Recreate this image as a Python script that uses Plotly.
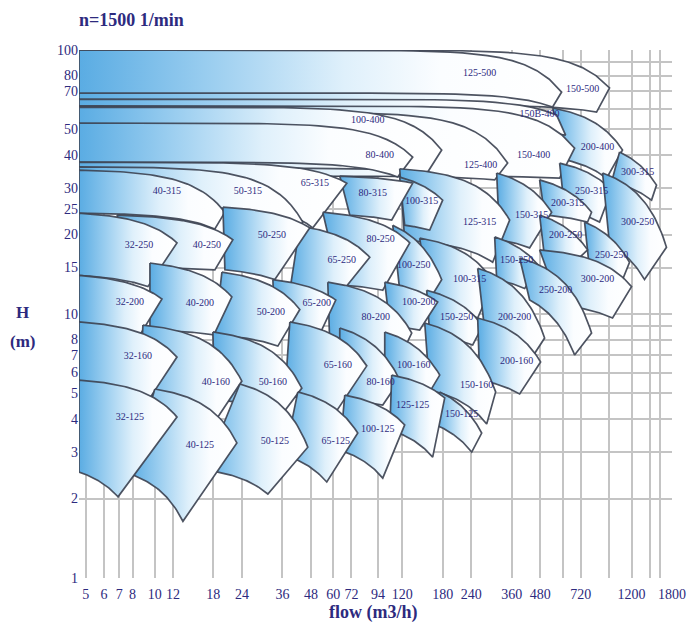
import numpy as np
import plotly.graph_objects as go

# ---- pump tiles (listed in drawing order: upper/right first, lower/left last) ----
names = [
    "150-500", "125-500",
    "200-400", "150B-400", "150-400", "125-400", "100-400", "80-400",
    "300-315", "250-315", "200-315", "150-315", "125-315", "100-315", "80-315", "65-315", "50-315", "40-315",
    "300-250", "250-250", "200-250", "150-250", "100-315", "100-250", "80-250", "65-250", "50-250", "40-250", "32-250",
    "300-200", "250-200", "200-200", "150-250", "100-200", "80-200", "65-200", "50-200", "40-200", "32-200",
    "200-160", "150-160", "100-160", "80-160", "65-160", "50-160", "40-160", "32-160",
    "150-125", "125-125", "100-125", "65-125", "50-125", "40-125", "32-125",
]
# corner points of each tile: flow Q (m3/h), head H (m)
q_top_left = [4.67, 4.67,
              542.9, 4.67, 4.67, 4.67, 4.67, 4.67,
              1063, 582.4, 476.4, 309.5, 116.9, 116.9, 64.04, 4.67, 4.67, 4.67,
              896.3, 748.2, 476.4, 303.4, 142.9, 109.0, 54.0, 42.88, 19.81, 6.84, 4.67,
              476.4, 389.9, 255.8, 153.3, 100.6, 56.78, 32.71, 19.61, 9.52, 4.67,
              255.8, 150.3, 100.6, 64.04, 38.79, 17.91, 8.87, 4.67,
              174.7, 107.9, 67.34, 42.03, 23.49, 10.0, 4.67]
h_top_left = [100, 100,
              60.3, 65.2, 61.4, 58.2, 60.8, 52.9,
              41.1, 37.3, 32.2, 34.2, 35.5, 33.0, 33.3, 37.6, 36.1, 35.1,
              34.2, 22.3, 23.7, 19.6, 19.4, 21.7, 24.3, 21.5, 25.4, 23.7, 24.1,
              17.5, 16.3, 14.9, 12.3, 13.2, 13.2, 13.5, 14.4, 15.6, 14.0,
              9.66, 9.25, 8.55, 8.85, 9.33, 8.55, 9.08, 9.33,
              5.07, 5.87, 4.93, 5.07, 5.43, 5.20, 5.62]
q_top_right = [961.5, 594.2,
               1095, 565.1, 676.9, 345.6, 178.2, 133.2,
               1541, 981.1, 802.6, 537.5, 352.6, 180.0, 133.2, 68.71, 44.19, 20.21,
               1703, 1175, 771.0, 476.4, 300.3, 178.2, 129.3, 86.56, 47.41, 21.89, 12.49,
               1199, 802.6, 500.9, 268.9, 171.2, 131.9, 61.52, 42.88, 21.67, 10.74,
               481.2, 306.4, 174.7, 116.9, 83.99, 43.75, 23.96, 12.49,
               266.3, 183.7, 122.9, 76.73, 46.46, 22.79, 12.49]
h_top_right = [71.8, 69.3,
               41.8, 56.7, 42.5, 37.3, 41.8, 39.3,
               30.8, 29.5, 24.3, 24.3, 22.7, 27.0, 31.3, 31.3, 22.3, 24.3,
               17.9, 15.7, 17.5, 15.1, 13.2, 13.5, 18.6, 16.4, 21.2, 19.1, 18.6,
               12.7, 8.47, 8.11, 9.01, 11.1, 8.47, 11.3, 10.4, 11.6, 11.4,
               6.58, 5.07, 5.87, 5.62, 6.36, 5.24, 5.57, 6.87,
               3.54, 4.81, 3.80, 3.54, 3.13, 3.25, 4.07]
q_bottom_right = [843.9, 542.9,
                  933.0, 618.5, 582.4, 303.4, 154.9, 114.6,
                  1466, 869.7, 771.0, 430.9, 297.3, 158.0, 107.9, 48.86, 42.03, 18.27,
                  1366, 1085, 676.9, 410.0, 255.8, 161.2, 98.61, 60.30, 33.37, 18.27, 9.33,
                  991.0, 676.9, 439.7, 243.3, 142.9, 114.6, 53.46, 34.39, 18.09, 8.61,
                  389.9, 280.0, 154.9, 98.61, 61.52, 36.52, 18.46, 9.52,
                  240.9, 162.8, 98.61, 56.22, 31.11, 13.26, 6.91]
h_bottom_right = [58.2, 60.8,
                  32.7, 47.6, 32.7, 32.2, 34.5, 33.0,
                  27.0, 22.3, 22.3, 17.8, 15.7, 20.8, 22.7, 21.2, 20.8, 21.0,
                  13.5, 13.2, 15.7, 12.5, 9.66, 11.7, 12.3, 11.1, 13.5, 14.7, 12.7,
                  9.66, 6.99, 6.81, 7.63, 8.70, 6.58, 8.70, 7.56, 8.33, 8.33,
                  4.98, 3.83, 4.93, 4.52, 4.25, 4.25, 3.97, 4.81,
                  3.00, 2.87, 2.39, 2.31, 2.08, 1.64, 2.03]
q_bottom_left = [4.67, 4.67,
                 624.5, 4.67, 4.67, 4.67, 4.67, 4.67,
                 981.1, 612.3, 500.9, 319.0, 122.9, 122.9, 70.8, 4.67, 4.67, 4.67,
                 961.5, 786.7, 500.9, 309.5, 158.0, 116.9, 64.04, 38.79, 20.21, 7.79, 4.67,
                 582.4, 430.9, 274.4, 158.0, 105.8, 57.93, 33.37, 18.27, 9.52, 4.67,
                 261.0, 158.0, 100.6, 64.04, 36.89, 18.27, 8.61, 4.67,
                 167.8, 105.8, 64.04, 36.89, 16.54, 7.79, 4.67]
h_bottom_left = [61.9, 68.7,
                 38.3, 49.8, 33.3, 33.3, 35.7, 37.6,
                 31.6, 24.8, 23.7, 19.1, 19.0, 21.7, 23.7, 27.0, 25.9, 24.1,
                 18.3, 14.7, 16.3, 13.5, 10.8, 12.3, 12.9, 12.3, 14.7, 15.0, 14.0,
                 10.8, 11.3, 8.70, 8.33, 9.0, 7.63, 8.85, 8.33, 8.7, 8.70,
                 5.62, 5.15, 5.2, 4.72, 4.93, 4.72, 4.93, 5.15,
                 3.80, 3.64, 3.05, 2.92, 2.57, 2.48, 2.52]
label_q = [733.4, 261.0,
           852, 476.4, 448.6, 263.6, 84.8, 95.7,
           1274, 802.6, 631, 439.7, 261.0, 145.8, 89.2, 49.84, 25.45, 11.29,
           1274, 981.1, 618.5, 378.4, 236.1, 134.6, 96.6, 65.36, 32.4, 16.87, 8.53,
           852, 559.4, 370.8, 207.2, 141.5, 91.9, 50.85, 32.06, 15.73, 7.79,
           378.4, 253.2, 134.6, 96.6, 62.8, 32.71, 18.46, 8.44,
           217.8, 133.2, 93.8, 61.52, 33.37, 15.73, 7.79]
label_h = [70.6, 81.8,
           42.9, 57.2, 40.0, 36.4, 54.3, 40.0,
           34.5, 29.0, 26.3, 23.7, 22.3, 26.6, 28.7, 31.3, 29.0, 29.0,
           22.3, 16.7, 19.9, 15.9, 13.5, 15.2, 19.1, 15.9, 19.9, 18.1, 18.1,
           13.5, 12.3, 9.66, 9.66, 11.1, 9.74, 11.0, 10.09, 11.0, 11.1,
           6.58, 5.34, 6.36, 5.48, 6.36, 5.48, 5.48, 6.93,
           4.18, 4.52, 3.64, 3.30, 3.30, 3.19, 4.04]

x_tick_vals = [5, 6, 7, 8, 10, 12, 18, 24, 36, 48, 60, 72, 94, 120, 180, 240, 360, 480, 720, 1200, 1800]
x_grid_only = [600, 960, 1440, 1600]
y_tick_vals = [1, 2, 3, 4, 5, 6, 7, 8, 10, 15, 20, 25, 30, 40, 50, 70, 80, 100]
y_grid_only = [9, 60, 90]

TEXT = "#2d2a7e"
SERIF = "Liberation Serif"
P = 2.5


def pump_curve(q1, h1, q2, h2, n=40):
    q = np.geomspace(q1, q2, n)
    b = (h1 - h2) / (q2 ** P - q1 ** P)
    a = h1 + b * q1 ** P
    return q, a - b * q ** P


fig = go.Figure()
gradient = dict(type="horizontal",
                colorscale=[[0, "#5aace3"], [0.28, "#9dcff0"], [0.55, "#dff0fb"],
                            [0.75, "#fbfdff"], [1, "#ffffff"]])

for i, nm in enumerate(names):
    qt, ht = pump_curve(q_top_left[i], h_top_left[i], q_top_right[i], h_top_right[i])
    qb, hb = pump_curve(q_bottom_left[i], h_bottom_left[i], q_bottom_right[i], h_bottom_right[i])
    xs = np.concatenate([qt, qb[::-1], [qt[0]]])
    ys = np.concatenate([ht, hb[::-1], [ht[0]]])
    fig.add_trace(go.Scatter(
        x=xs, y=ys, mode="lines", fill="toself", fillgradient=gradient,
        line=dict(color="rgba(62,68,84,0.92)", width=1.7),
        hoverinfo="skip", showlegend=False))

fig.add_trace(go.Scatter(
    x=label_q, y=label_h, mode="text", text=names,
    textfont=dict(family=SERIF, size=10, color=TEXT),
    hoverinfo="skip", showlegend=False))

all_x = x_tick_vals + x_grid_only
all_x_text = [str(v) for v in x_tick_vals] + [""] * len(x_grid_only)
all_y = y_tick_vals + y_grid_only
all_y_text = [str(v) for v in y_tick_vals] + [""] * len(y_grid_only)

fig.update_xaxes(type="log", range=[np.log10(4.67), np.log10(1800)],
                 tickmode="array", tickvals=all_x, ticktext=all_x_text,
                 showgrid=True, gridcolor="#c4c4c4", gridwidth=1.7,
                 zeroline=False, showline=False, ticks="", automargin=False,
                 ticklabelstandoff=6,
                 tickfont=dict(family=SERIF, size=14, color=TEXT))
fig.update_yaxes(type="log", range=[0, 2],
                 tickmode="array", tickvals=all_y, ticktext=all_y_text,
                 showgrid=True, gridcolor="#c4c4c4", gridwidth=1.7,
                 zeroline=False, showline=False, ticks="", automargin=False,
                 tickfont=dict(family=SERIF, size=14, color=TEXT))

# the page adds an 8px body margin, so the figure is 8px smaller than the window
fig.update_layout(
    width=692, height=616,
    margin=dict(l=71, r=28, t=42, b=46),
    paper_bgcolor="white", plot_bgcolor="white",
    showlegend=False,
    annotations=[
        dict(text="<b>n=1500 1/min</b>", xref="paper", yref="paper", x=-0.004, y=1.057,
             xanchor="left", yanchor="middle", showarrow=False,
             font=dict(family=SERIF, size=18, color=TEXT)),
        dict(text="<b>H</b>", xref="paper", yref="paper", x=-0.095, y=0.502,
             xanchor="center", yanchor="middle", showarrow=False,
             font=dict(family=SERIF, size=17, color=TEXT)),
        dict(text="<b>(m)</b>", xref="paper", yref="paper", x=-0.095, y=0.447,
             xanchor="center", yanchor="middle", showarrow=False,
             font=dict(family=SERIF, size=17, color=TEXT)),
        dict(text="<b>flow (m3/h)</b>", xref="paper", yref="paper", x=0.496, y=-0.066,
             xanchor="center", yanchor="middle", showarrow=False,
             font=dict(family=SERIF, size=18, color=TEXT)),
    ],
)

fig.write_html("out.html")
